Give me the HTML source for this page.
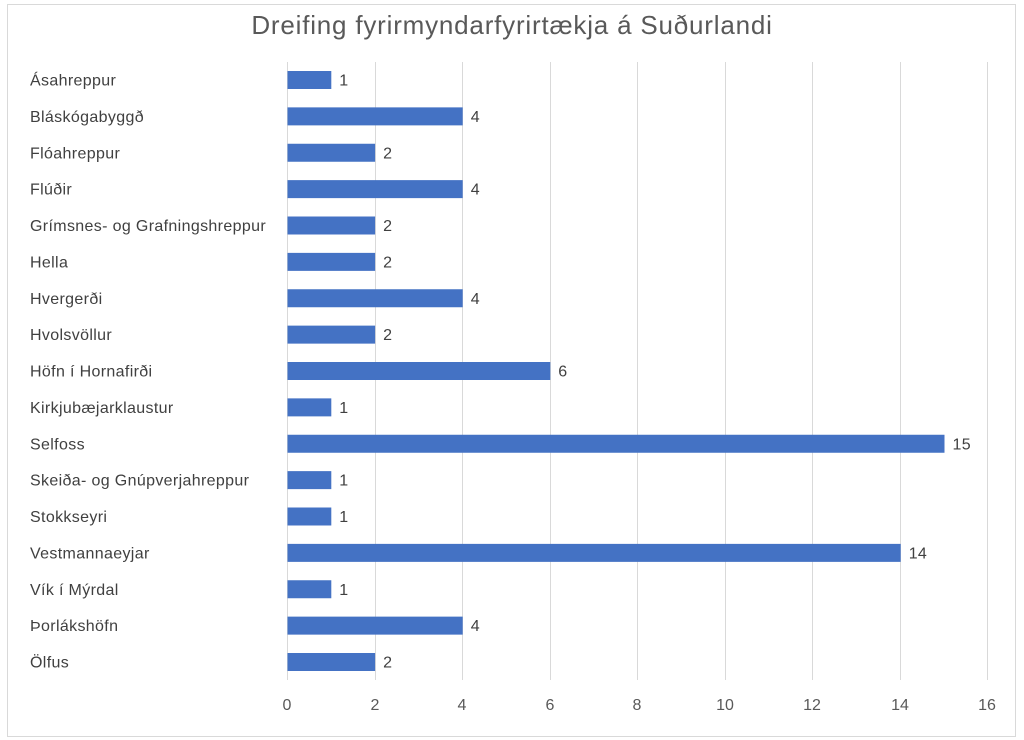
<!DOCTYPE html>
<html><head><meta charset="utf-8"><style>
html,body{margin:0;padding:0;background:#fff;}
svg{display:block;font-family:"Liberation Sans",sans-serif;}
</style></head><body>
<svg width="1024" height="740" viewBox="0 0 1024 740">
<rect x="7.5" y="4.5" width="1008" height="732" fill="#fff" stroke="#d9d9d9"/>
<text x="512" y="34" text-anchor="middle" font-size="26" letter-spacing="0.8" fill="#595959">Dreifing fyrirmyndarfyrirtækja á Suðurlandi</text>
<g stroke="#d9d9d9" stroke-width="1">
<line x1="287.5" y1="62" x2="287.5" y2="680"/>
<line x1="375.5" y1="62" x2="375.5" y2="680"/>
<line x1="462.5" y1="62" x2="462.5" y2="680"/>
<line x1="550.5" y1="62" x2="550.5" y2="680"/>
<line x1="637.5" y1="62" x2="637.5" y2="680"/>
<line x1="725.5" y1="62" x2="725.5" y2="680"/>
<line x1="812.5" y1="62" x2="812.5" y2="680"/>
<line x1="900.5" y1="62" x2="900.5" y2="680"/>
<line x1="987.5" y1="62" x2="987.5" y2="680"/>
</g>
<g font-size="16" fill="#595959" text-anchor="middle">
<text x="287" y="710">0</text><text x="375" y="710">2</text><text x="462" y="710">4</text><text x="550" y="710">6</text><text x="637" y="710">8</text><text x="725" y="710">10</text><text x="812" y="710">12</text><text x="900" y="710">14</text><text x="987" y="710">16</text>
</g>
<g id="bars" fill="#4472c4"></g>
<g id="labels" font-size="16" letter-spacing="0.35" fill="#404040"></g>
</svg>
<script>
var d=[["Ásahreppur",1],["Bláskógabyggð",4],["Flóahreppur",2],["Flúðir",4],["Grímsnes- og Grafningshreppur",2],["Hella",2],["Hvergerði",4],["Hvolsvöllur",2],["Höfn í Hornafirði",6],["Kirkjubæjarklaustur",1],["Selfoss",15],["Skeiða- og Gnúpverjahreppur",1],["Stokkseyri",1],["Vestmannaeyjar",14],["Vík í Mýrdal",1],["Þorlákshöfn",4],["Ölfus",2]];
var ns="http://www.w3.org/2000/svg",b=document.getElementById("bars"),l=document.getElementById("labels");
d.forEach(function(r,i){var cy=80+i*36.375,w=r[1]*43.8;
var rc=document.createElementNS(ns,"rect");rc.setAttribute("x",287.5);rc.setAttribute("y",cy-9);rc.setAttribute("width",w);rc.setAttribute("height",18);b.appendChild(rc);
var t=document.createElementNS(ns,"text");t.setAttribute("x",30);t.setAttribute("y",cy+5.5);t.textContent=r[0];l.appendChild(t);
var v=document.createElementNS(ns,"text");v.setAttribute("x",287.5+w+8);v.setAttribute("y",cy+5.5);v.textContent=r[1];l.appendChild(v);});
</script>
</body></html>
